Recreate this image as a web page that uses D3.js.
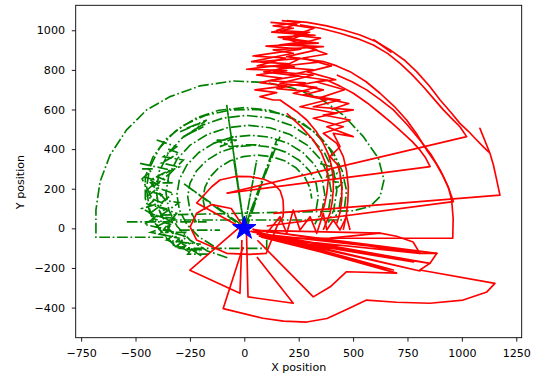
<!DOCTYPE html>
<html>
<head>
<meta charset="utf-8">
<script src="https://cdn.jsdelivr.net/npm/d3@7"></script>
<style>
  body { margin: 0; background: #fff; }
  text { font-family: "DejaVu Sans", sans-serif; }
</style>
</head>
<body>
<svg width="537" height="381"></svg>
<script>
// tick labels
const xTicks = [-750, -500, -250, 0, 250, 500, 750, 1000, 1250];
const yTicks = [-400, -200, 0, 200, 400, 600, 800, 1000];

// green trajectory pieces (dash-dot)
const gOuter = [[-372,-45],[-682,-45],[-682,93],[-663,236],[-617,370],[-541,497],[-449,598],[-341,665],[-204,719],[-50,744],[103,736],[225,707],[348,657],[455,572],[547,463],[616,354],[642,244],[624,160],[578,110],[501,89],[-387,67]];
const gArcA = [[-318,-90],[-390,-5],[-435,94],[-450,200],[-435,306],[-390,405],[-318,490],[-225,555],[-117,596],[0,610],[117,596],[225,555],[318,490],[390,405],[435,306],[450,200],[435,94],[420,60]];
const gArcA2 = [[-250,-120],[-350,-60],[-420,40],[-455,150],[-455,260],[-420,360],[-360,450],[-280,520],[-180,570],[-60,598],[60,600],[170,578],[270,530],[350,460],[410,380],[450,290],[470,190],[460,100]];
const gArcB = [[-198,-139],[-283,-79],[-349,0],[-391,92],[-405,190],[-391,288],[-349,380],[-283,459],[-198,519],[-97,557],[10,570],[117,557],[218,519],[303,459],[369,380],[411,288],[425,190],[411,92],[386,29]];
const gArcC = [[-78,-148],[-170,-114],[-249,-60],[-309,10],[-347,92],[-360,180],[-347,268],[-309,350],[-249,420],[-170,474],[-78,508],[20,520],[118,508],[210,474],[289,420],[349,350],[387,268],[400,180],[387,92]];
const gArcD = [[-140,-90],[-210,-42],[-264,20],[-298,92],[-310,170],[-298,248],[-264,320],[-210,382],[-140,430],[-58,460],[30,470],[118,460],[200,430],[270,382],[324,320],[358,248],[370,170],[358,92],[324,20]];
const gArcE = [[-220,30],[-250,93],[-260,160],[-250,227],[-220,290],[-172,344],[-110,385],[-38,411],[40,420],[118,411],[190,385],[252,344],[300,290],[330,227],[340,160],[330,93]];
const gArcF = [[-181,93],[-190,150],[-181,207],[-157,260],[-117,306],[-65,341],[-5,362],[60,370],[125,362],[185,341],[237,306],[277,260],[301,207],[310,150]];
const gRays = [[0,0],[-81,623],[0,0],[149,446],[10,0],[-281,228],[0,0],[-48,345],[0,0],[57,345],[0,0],[164,463]];
const gLine1 = [[-357,42],[455,42]];
const gLine2 = [[-540,33],[-173,33]];
const gLine3 = [[-300,-9],[-112,-9]];
const gLine4 = [[-234,-101],[103,-101],[103,-25]];
const gJit1 = [[-479,328],[-341,295],[-433,244],[-387,211],[-449,160],[-372,126],[-433,76],[-341,42],[-403,9],[-311,-25],[-357,-59],[-250,-76],[-295,-101],[-188,-109]];
const gJit2 = [[-403,446],[-311,412],[-372,362],[-280,345],[-341,278],[-418,211],[-326,177],[-403,110],[-311,76],[-372,-8],[-265,-42],[-311,-92],[-204,-118]];
const gJit3 = [[348,328],[394,312],[379,261],[425,278],[409,236],[455,230],[420,200]];
const gJit4 = [[-460,260],[-400,240],[-450,190],[-380,170],[-440,120],[-360,100],[-420,50],[-340,20],[-390,-30],[-300,-50],[-330,-90],[-240,-100],[-260,-130],[-150,-130]];
const gJit5 = [[-350,400],[-300,380],[-380,330],[-300,310],[-400,260],[-330,230],[-430,230],[-360,140],[-300,130],[-390,60],[-320,50],[-360,-20],[-270,-20],[-290,-70],[-200,-80]];
const gJit6 = [[-470,300],[-420,300],[-470,250],[-410,120],[-470,100],[-400,60],[-460,20],[-380,0],[-430,-20],[-340,-40]];
const gBlob1 = [[-295,488],[-204,530],[-265,505],[-173,547],[-250,480],[-188,513],[-280,463],[-219,497]];
const gBlob2 = [[-142,429],[-50,463],[-112,412],[-35,446],[-127,446],[-66,412],[11,421],[72,421]];

// red trajectory pieces (solid)
const rZig1 = [[172,1049],[256,1039],[133,1022],[225,1010],[126,991],[325,975],[156,965],[294,944],[164,926],[363,917],[133,901],[225,884],[34,842],[210,830],[11,803],[195,796],[57,774],[172,758],[72,736],[195,719],[49,699],[149,685],[72,665],[133,648],[164,648],[240,590],[287,547],[330,490],[363,429],[388,370],[401,312],[409,250],[409,194],[404,135],[394,76],[363,-8]];
const rZig2 = [[164,993],[287,985],[210,951],[333,901],[195,867],[363,842],[149,816],[317,800],[210,774],[379,749],[256,724],[363,699],[271,673],[440,648],[317,614],[501,598],[363,572],[486,547],[379,513],[501,463],[409,480],[440,412],[394,362],[430,320],[440,278],[448,210],[448,143],[440,80],[425,25]];
const rZig3 = [[72,842],[256,858],[133,791],[317,774],[164,732],[333,712],[225,682],[379,648],[256,614],[425,581],[317,556],[455,513],[363,480],[425,429],[455,362],[470,290],[478,210],[476,140],[470,76],[455,-8]];
const rZig4 = [[120,1040],[240,1030],[150,1000],[300,990],[180,955],[340,935],[100,920],[260,905],[40,870],[190,860],[60,820],[230,815],[90,790],[250,770],[110,745],[280,735],[150,705],[300,690]];
const rZig5 = [[200,1030],[320,1010],[230,975],[350,960],[250,930],[380,880],[270,860],[400,820],[290,790],[420,750],[330,740],[460,700],[350,660],[480,630],[400,600]];
const rOuter = [[195,1049],[290,1040],[379,1022],[460,1000],[532,976],[605,943],[670,901],[735,850],[792,791],[850,720],[900,648],[950,585],[991,530],[1030,490],[1068,446],[1100,410],[1129,379],[1083,505],[1129,379],[1145,320],[1160,245],[1175,168],[133,76]];
const rArc2 = [[256,1027],[350,1010],[440,985],[520,958],[593,926],[660,882],[716,833],[772,775],[823,715],[870,655],[915,598],[955,553],[991,513],[1022,463],[-81,177]];
const rTick = [[593,954],[677,887]];
const rArc3 = [[363,842],[425,820],[486,791],[560,740],[624,682],[690,615],[746,547],[795,472],[838,396],[880,330],[915,261],[940,200],[953,143],[960,50],[958,-50],[133,-50]];
const rArc4 = [[379,749],[440,718],[501,682],[565,633],[624,581],[680,530],[731,480],[772,438],[807,396],[834,355],[854,312],[-81,177]];
const rArc5 = [[425,774],[495,740],[562,699],[625,650],[685,598],[750,522],[807,446],[860,370],[900,295],[935,215],[961,135],[103,12]];
const rInner = [[195,581],[260,515],[317,446],[355,380],[379,312],[386,245],[379,177],[368,115],[348,59]];
const rLoop = [[-20,8],[-219,128],[-150,210],[-112,244],[-40,262],[26,261],[90,248],[132,228],[165,190],[178,143],[180,100],[178,59],[150,10],[101,-126],[26,-131],[-81,-126],[-219,-59],[-249,8],[-219,76],[-150,120],[-60,100],[0,0]];
const rPent1 = [[-20,8],[-250,-211],[-20,-328],[-11,-59]];
const rPent3 = [[10,-20],[17,-346],[225,-378],[58,-145]];
const rPent4 = [[60,-60],[317,-346],[395,-295],[470,-219],[700,-226]];
const rBottom = [[395,-49],[624,-24],[700,-40],[776,-69],[807,-126],[885,-126],[853,-177],[807,-210],[1152,-278],[1115,-321],[1006,-362],[853,-378],[700,-373],[562,-362],[470,-410],[380,-455],[287,-473],[180,-468],[86,-454],[-97,-405],[-6,-94]];
const rFan = [[40,-10],[700,-226],[60,-30],[807,-215],[30,-15],[777,-170],[70,-40],[853,-177],[50,-20],[685,-210],[80,-45],[807,-126],[40,-5],[746,-109],[90,-30],[885,-126],[60,-10],[624,-24]];
const rZigLow = [[103,-25],[164,59],[195,-25],[225,93],[256,-8],[302,59],[333,-25],[363,76],[379,-8],[409,42],[440,-8],[470,59],[486,-8]];

const startPoint = [[0, 0]];

const greenPaths = [gOuter, gArcA, gArcA2, gArcB, gArcC, gArcD, gArcE, gArcF, gRays, gLine1, gLine2, gLine3, gLine4, gJit1, gJit2, gJit3, gJit4, gJit5, gJit6, gBlob1, gBlob2];
const redPaths = [rZig1, rZig2, rZig3, rZig4, rZig5, rOuter, rArc2, rTick, rArc3, rArc4, rArc5, rInner, rLoop, rPent1, rPent3, rPent4, rBottom, rFan, rZigLow];

const svg = d3.select("svg");
const m = { left: 75.7, right: 521.7, top: 5.3, bottom: 337.7 };

const x = d3.scaleLinear().domain([-775, 1275]).range([m.left, m.right]);
const y = d3.scaleLinear().domain([-552, 1126]).range([m.bottom, m.top]);

svg.append("rect").attr("width", 537).attr("height", 381).attr("fill", "#fff");

svg.append("clipPath").attr("id", "clip")
  .append("rect")
  .attr("x", m.left).attr("y", m.top)
  .attr("width", m.right - m.left).attr("height", m.bottom - m.top);

const line = d3.line().x(d => x(d[0])).y(d => y(d[1]));
const plot = svg.append("g").attr("clip-path", "url(#clip)");

plot.selectAll(".g")
  .data(greenPaths)
  .enter().append("path")
  .attr("d", line)
  .attr("fill", "none")
  .attr("stroke", "#008000")
  .attr("stroke-width", 1.67)
  .attr("stroke-dasharray", "10.7,2.7,1.7,2.7");

plot.selectAll(".r")
  .data(redPaths)
  .enter().append("path")
  .attr("d", line)
  .attr("fill", "none")
  .attr("stroke", "#ff0000")
  .attr("stroke-width", 1.67)
  .attr("stroke-linejoin", "round");

// start marker
plot.selectAll(".star")
  .data(startPoint)
  .enter().append("path")
  .attr("transform", d => "translate(" + x(d[0]) + "," + y(d[1]) + ")")
  .attr("d", d3.symbol().type(d3.symbolStar).size(170))
  .attr("fill", "#0000ff")
  .attr("stroke", "#0000ff")
  .attr("stroke-width", 1);

const fmt = d => String(d).replace("-", "\u2212");

const xAxis = svg.append("g")
  .attr("transform", "translate(0," + m.bottom + ")")
  .call(d3.axisBottom(x).tickValues(xTicks).tickFormat(fmt).tickSize(3.9).tickPadding(7.6));
const yAxis = svg.append("g")
  .attr("transform", "translate(" + m.left + ",0)")
  .call(d3.axisLeft(y).tickValues(yTicks).tickFormat(fmt).tickSize(3.9).tickPadding(6.8));

[xAxis, yAxis].forEach(a => {
  a.select(".domain").remove();
  a.selectAll("line").attr("stroke", "#000").attr("stroke-width", 0.9);
  a.selectAll("text").attr("font-size", 11.1).attr("fill", "#000")
    .attr("font-family", "DejaVu Sans");
});

// frame
svg.append("rect")
  .attr("x", m.left).attr("y", m.top)
  .attr("width", m.right - m.left).attr("height", m.bottom - m.top)
  .attr("fill", "none").attr("stroke", "#000").attr("stroke-width", 0.9);

svg.append("text")
  .attr("x", (m.left + m.right) / 2).attr("y", 370.5)
  .attr("text-anchor", "middle").attr("font-size", 11.1)
  .text("X position");

svg.append("text")
  .attr("transform", "translate(23.5,182) rotate(-90)")
  .attr("text-anchor", "middle").attr("font-size", 11.1)
  .text("Y position");
</script>
</body>
</html>
